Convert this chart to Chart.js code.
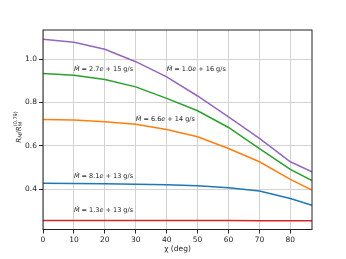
<!DOCTYPE html>
<html>
<head>
<meta charset="utf-8">
<script src="https://cdn.jsdelivr.net/npm/chart.js@4/dist/chart.umd.min.js"></script>
<style>
  html, body { margin: 0; padding: 0; background: #fff; }
  #wrap { width: 346px; height: 259px; }
</style>
</head>
<body>
<div id="wrap"><canvas id="grafico" width="346" height="259"></canvas></div>
<script>
// angle chi (deg)
const chi = [0, 10, 20, 30, 40, 50, 60, 70, 80, 87];

// R_M / R_M^(0.79), one list per accretion rate
const r81e13 = [0.428, 0.427, 0.426, 0.424, 0.421, 0.417, 0.407, 0.392, 0.358, 0.326];
const r66e14 = [0.722, 0.719, 0.711, 0.700, 0.676, 0.642, 0.588, 0.527, 0.446, 0.397];
const r27e15 = [0.934, 0.926, 0.906, 0.872, 0.819, 0.762, 0.685, 0.588, 0.492, 0.440];
const r13e13 = [0.257, 0.257, 0.257, 0.257, 0.256, 0.256, 0.256, 0.255, 0.255, 0.255];
const r10e16 = [1.091, 1.078, 1.045, 0.988, 0.918, 0.830, 0.734, 0.635, 0.527, 0.481];

const xTicks = [0, 10, 20, 30, 40, 50, 60, 70, 80];
const yTicks = [0.4, 0.6, 0.8, 1.0];

// labels: mantissa, exponent, anchor in data coords
const notas = [
  { m: '2.7', e: '15', x: 10, y: 0.954 },
  { m: '1.0', e: '16', x: 40, y: 0.954 },
  { m: '6.6', e: '14', x: 30, y: 0.724 },
  { m: '8.1', e: '13', x: 10, y: 0.461 },
  { m: '1.3', e: '13', x: 10, y: 0.305 }
];

const pontos = arr => arr.map((v, i) => ({ x: chi[i], y: v }));

const serie = (data, cor) => ({
  data: pontos(data),
  borderColor: cor,
  borderWidth: 1.5,
  pointRadius: 0,
  tension: 0,
  fill: false
});

const fonte = 'DejaVu Sans';

function trechos(ctx, partes, x, y) {
  partes.forEach(p => {
    ctx.font = (p.it ? 'italic ' : '') + p.size + 'px "' + fonte + '"';
    ctx.fillText(p.t, x, y + (p.dy || 0));
    x += ctx.measureText(p.t).width + (p.gap || 0);
  });
}

const textos = {
  id: 'textos',
  afterDraw(chart) {
    const { ctx, chartArea: a, scales } = chart;
    ctx.save();
    // frame
    ctx.strokeStyle = '#222';
    ctx.lineWidth = 1;
    ctx.strokeRect(a.left, a.top, a.right - a.left, a.bottom - a.top);

    ctx.fillStyle = '#222';
    ctx.textBaseline = 'middle';
    ctx.textAlign = 'left';
    notas.forEach(n => {
      const px = scales.x.getPixelForValue(n.x);
      const py = scales.y.getPixelForValue(n.y);
      trechos(ctx, [
        { t: '\u1E40', it: true, size: 6.5 },
        { t: ' = ' + n.m, size: 6.5 },
        { t: 'e', it: true, size: 6.5 },
        { t: ' + ' + n.e + ' g/s', size: 6.5 }
      ], px, py);
    });

    // x title
    ctx.textAlign = 'center';
    ctx.font = '7.5px "' + fonte + '"';
    ctx.fillText('\u03C7 (deg)', (a.left + a.right) / 2, 249);

    // y title, rotated
    ctx.translate(19, 127);
    ctx.rotate(-Math.PI / 2);
    ctx.textAlign = 'left';
    const pecas = [
      { t: 'R', it: true, size: 7 },
      { t: 'M', it: true, size: 5, dy: 2 },
      { t: '/', size: 7 },
      { t: 'R', it: true, size: 7 }
    ];
    let w = 0;
    pecas.forEach(p => {
      ctx.font = (p.it ? 'italic ' : '') + p.size + 'px "' + fonte + '"';
      w += ctx.measureText(p.t).width;
    });
    ctx.font = '5px "' + fonte + '"';
    const wSup = ctx.measureText('(0.79)').width;
    let x0 = -(w + wSup) / 2;
    trechos(ctx, pecas, x0, 0);
    const xs = x0 + w;
    trechos(ctx, [{ t: 'M', it: true, size: 5 }], xs, 2);
    trechos(ctx, [{ t: '(0.79)', size: 5 }], xs, -3);
    ctx.restore();
  }
};

new Chart(document.getElementById('grafico'), {
  type: 'line',
  data: {
    datasets: [
      serie(r81e13, '#1f77b4'),
      serie(r66e14, '#ff7f0e'),
      serie(r27e15, '#2ca02c'),
      serie(r13e13, '#d62728'),
      serie(r10e16, '#9467bd')
    ]
  },
  options: {
    responsive: false,
    animation: false,
    layout: { padding: { left: 0, right: 34, top: 30, bottom: 0 } },
    plugins: {
      legend: { display: false },
      tooltip: { enabled: false }
    },
    scales: {
      x: {
        type: 'linear',
        min: 0,
        max: 87,
        afterBuildTicks: s => { s.ticks = xTicks.map(v => ({ value: v })); },
        afterFit: s => { s.height = 29.5; },
        grid: { color: '#d3d3d3', lineWidth: 1, tickLength: 4, tickColor: '#222', drawTicks: true },
        border: { display: false },
        ticks: {
          color: '#222',
          padding: 2,
          maxRotation: 0,
          font: { family: fonte, size: 7.5 },
          callback: v => String(v)
        }
      },
      y: {
        min: 0.215,
        max: 1.134,
        afterBuildTicks: s => { s.ticks = yTicks.map(v => ({ value: v })); },
        afterFit: s => { s.width = 43; },
        grid: { color: '#d3d3d3', lineWidth: 1, tickLength: 4, tickColor: '#222', drawTicks: true },
        border: { display: false },
        ticks: {
          color: '#222',
          padding: 2,
          font: { family: fonte, size: 7.5 },
          callback: v => v.toFixed(1)
        }
      }
    }
  },
  plugins: [textos]
});
</script>
</body>
</html>
